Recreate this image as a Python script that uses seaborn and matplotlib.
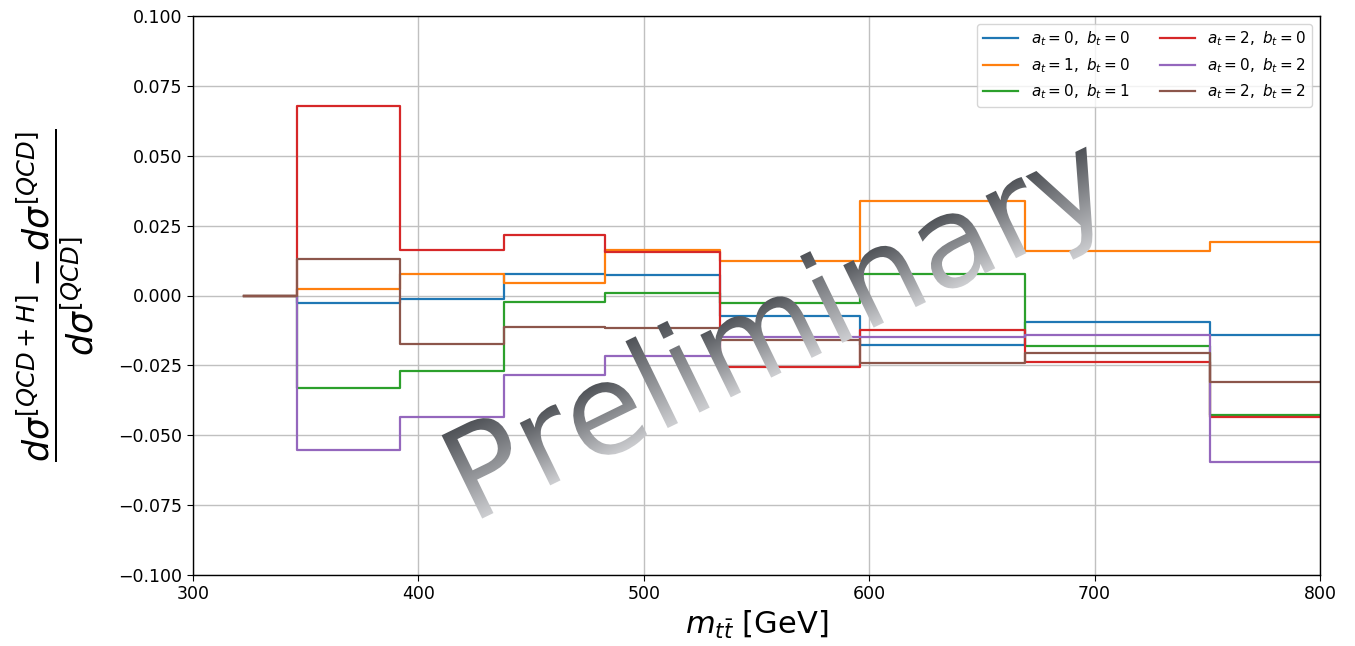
import numpy as np
import pandas as pd
import matplotlib
matplotlib.use("Agg")
import matplotlib.pyplot as plt
import seaborn as sns
from matplotlib.textpath import TextPath
from matplotlib.patches import PathPatch
from matplotlib.font_manager import FontProperties, findfont
from matplotlib.ft2font import FT2Font
import matplotlib.transforms as mtransforms

# ---------------- data ----------------
bin_edges = [322.5, 346, 392, 438, 483, 534, 596, 669, 751, 850]
series_labels = [
    r"$a_t = 0,\ b_t = 0$",
    r"$a_t = 1,\ b_t = 0$",
    r"$a_t = 0,\ b_t = 1$",
    r"$a_t = 2,\ b_t = 0$",
    r"$a_t = 0,\ b_t = 2$",
    r"$a_t = 2,\ b_t = 2$",
]
vals_a0_b0 = [0, -0.0028, -0.0014, 0.0078, 0.0073, -0.0072, -0.0176, -0.0096, -0.0140]
vals_a1_b0 = [0, 0.0024, 0.0077, 0.0044, 0.0163, 0.0124, 0.0338, 0.0159, 0.0193]
vals_a0_b1 = [0, -0.0332, -0.0270, -0.0022, 0.0010, -0.0028, 0.0078, -0.0180, -0.0428]
vals_a2_b0 = [0, 0.0678, 0.0163, 0.0215, 0.0157, -0.0255, -0.0125, -0.0239, -0.0434]
vals_a0_b2 = [0, -0.0553, -0.0434, -0.0284, -0.0215, -0.0150, -0.0147, -0.0142, -0.0596]
vals_a2_b2 = [0, 0.0131, -0.0172, -0.0114, -0.0115, -0.0159, -0.0243, -0.0207, -0.0309]
all_vals = [vals_a0_b0, vals_a1_b0, vals_a0_b1, vals_a2_b0, vals_a0_b2, vals_a2_b2]
x_ticks = [300, 400, 500, 600, 700, 800]
y_ticks = [-0.100, -0.075, -0.050, -0.025, 0.000, 0.025, 0.050, 0.075, 0.100]
watermark = "Preliminary"

rows = []
for lab, v in zip(series_labels, all_vals):
    yv = list(v) + [v[-1]]
    for xe, ye in zip(bin_edges, yv):
        rows.append({"x": xe, "y": ye, "series": lab})
df = pd.DataFrame(rows)

W, H = 1355, 646
fig = plt.figure(figsize=(W / 100, H / 100), dpi=100)
ax = fig.add_axes([193 / W, 1 - 575 / H, (1320 - 193) / W, (575 - 16) / H])

sns.lineplot(data=df, x="x", y="y", hue="series", hue_order=series_labels,
             palette="tab10", estimator=None, sort=False,
             drawstyle="steps-post", linewidth=1.6, ax=ax)

ax.set_xlim(300, 800)
ax.set_ylim(-0.1, 0.1)
ax.set_xticks(x_ticks)
ax.set_yticks(y_ticks)
ax.set_yticklabels([f"{t:.3f}".replace("-", "\u2212") for t in y_ticks])
ax.tick_params(labelsize=12.5, direction="out", length=4)
ax.grid(True, color="#c0c0c0", linewidth=1.0)
ax.set_axisbelow(True)
for s in ax.spines.values():
    s.set_color("black")
    s.set_linewidth(1.0)

ax.set_xlabel(r"$m_{t\bar{t}}$ [GeV]", fontsize=22)
ax.set_ylabel(r"$\dfrac{d\sigma^{[QCD+H]} - d\sigma^{[QCD]}}{d\sigma^{[QCD]}}$",
              fontsize=25, labelpad=16)

handles, labels = ax.get_legend_handles_labels()
if ax.get_legend() is not None:
    ax.get_legend().remove()
ax.legend(handles, labels, ncol=2, loc="upper right", fontsize=11,
          handlelength=2.3, columnspacing=2.0, framealpha=0.8)

# ---------------- watermark with per-glyph gradient ----------------
ov = fig.add_axes([0, 0, 1, 1])
ov.set_xlim(0, W)
ov.set_ylim(0, H)
ov.axis("off")
ov.patch.set_visible(False)

em = 127.0
theta = 26.0
ox, oy = 471.0, 122.0
fp = FontProperties(family="DejaVu Sans")
ftf = FT2Font(findfont(fp))
ftf.set_size(em, 72)
advances = []
for ch in watermark:
    g = ftf.load_char(ord(ch))
    advances.append(g.linearHoriAdvance / 65536.0)

th = np.deg2rad(theta)
up = np.array([-np.sin(th), np.cos(th)])
tr = mtransforms.Affine2D().rotate_deg(theta).translate(ox, oy)
dark = np.array([80, 83, 88]) / 255.0
light = np.array([205, 206, 209]) / 255.0

xoff = 0.0
for ch, adv in zip(watermark, advances):
    tp = TextPath((xoff, 0), ch, size=em, prop=fp)
    path = tr.transform_path(tp)
    verts = path.vertices
    x0, y0 = verts.min(axis=0) - 2
    x1, y1 = verts.max(axis=0) + 2
    proj = (verts[:, 0] - ox) * up[0] + (verts[:, 1] - oy) * up[1]
    vmin, vmax = proj.min(), proj.max()
    nx, ny = int(np.ceil(x1 - x0)) + 1, int(np.ceil(y1 - y0)) + 1
    XX, YY = np.meshgrid(np.linspace(x0, x1, nx), np.linspace(y0, y1, ny))
    vv = (XX - ox) * up[0] + (YY - oy) * up[1]
    t = np.clip((vv - vmin) / (vmax - vmin), 0, 1)
    img = light[None, None, :] + (dark - light)[None, None, :] * t[..., None]
    patch = PathPatch(path, transform=ov.transData, facecolor="none", edgecolor="none")
    ov.add_patch(patch)
    im = ov.imshow(img, extent=(x0, x1, y0, y1), origin="lower", aspect="auto",
                   zorder=5, interpolation="bilinear")
    im.set_clip_path(patch)
    xoff += adv
ov.set_xlim(0, W)
ov.set_ylim(0, H)

fig.savefig("out.png", dpi=100)
